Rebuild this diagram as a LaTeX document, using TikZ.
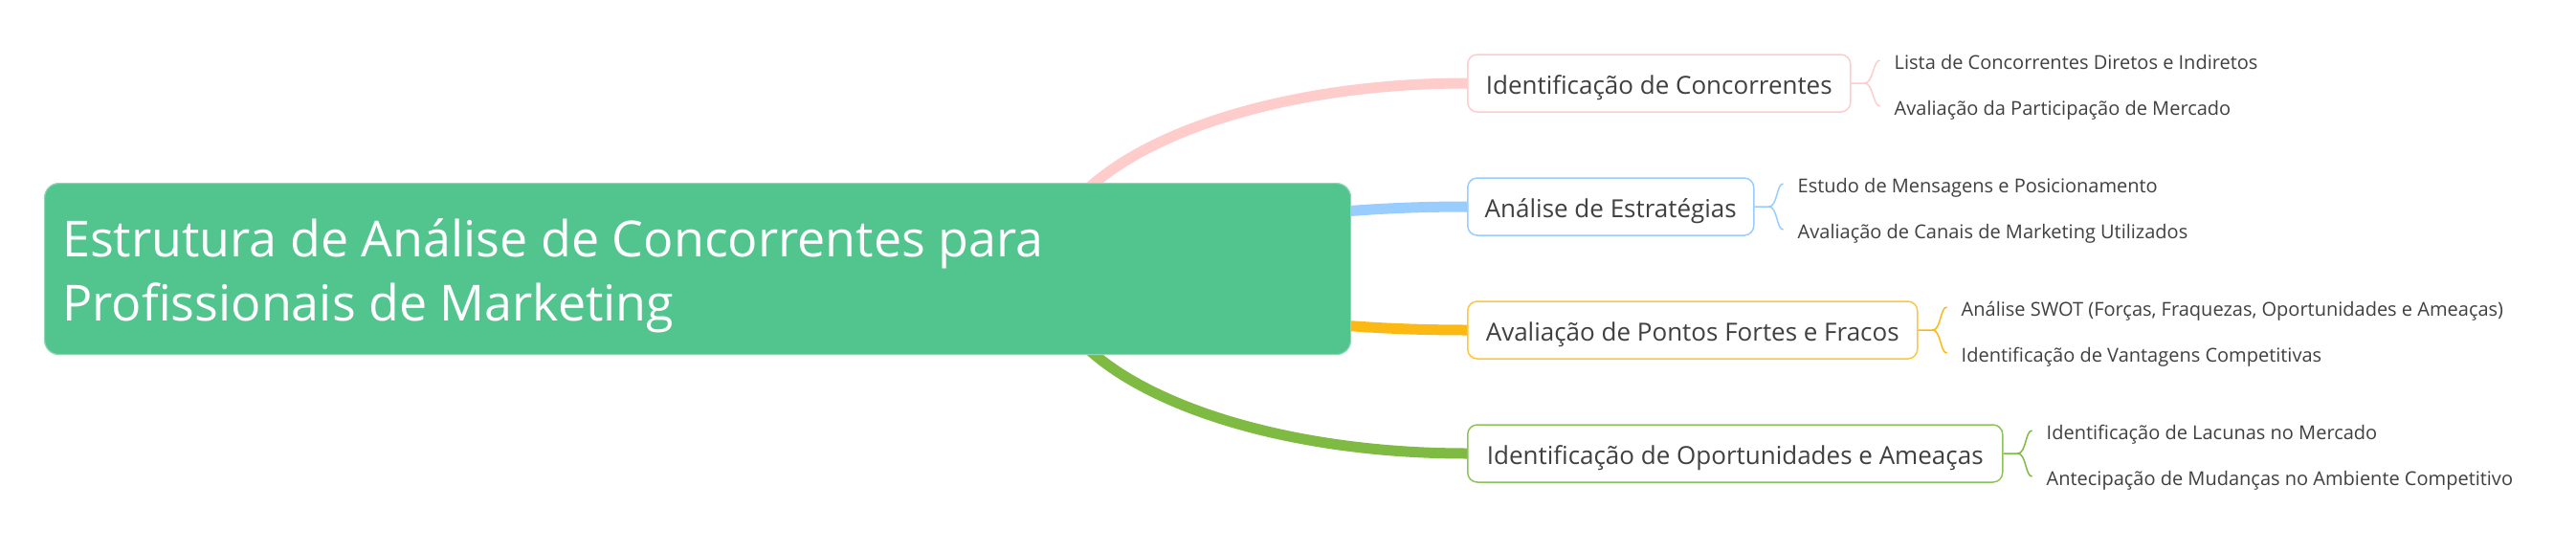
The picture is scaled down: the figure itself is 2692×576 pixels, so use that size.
\documentclass[tikz,border=0pt]{standalone}
\usepackage{fontspec}
\setmainfont{Open Sans}
\usetikzlibrary{backgrounds,calc}
\definecolor{rootfill}{HTML}{52C48E}
\definecolor{rootline}{HTML}{8FD8B4}
\definecolor{cpink}{HTML}{FFCCCC}
\definecolor{cblue}{HTML}{99CCFF}
\definecolor{corange}{HTML}{FDB913}
\definecolor{corangebox}{HTML}{FFC53D}
\definecolor{cgreen}{HTML}{7FBA42}
\definecolor{cgreenbox}{HTML}{8CC45A}
\definecolor{txt}{HTML}{404040}
\begin{document}
\begin{tikzpicture}[x=1pt,y=-1pt,
  rootbox/.style={draw=rootline, fill=rootfill, rounded corners=15pt, line width=1.2pt,
    minimum width=1365pt, minimum height=179pt, inner sep=0pt, anchor=north west},
  roottext/.style={text=white, font=\fontsize{52}{62}\selectfont, anchor=base west, inner sep=0pt},
  topicbox/.style={fill=white, rounded corners=10pt, line width=1.5pt, minimum height=60pt,
    inner sep=0pt, anchor=west, text=txt, font=\fontsize{26}{30}\selectfont,
    text height=22pt, text depth=0pt},
  leaf/.style={anchor=base west, inner sep=0pt, text=txt, font=\fontsize{20}{24}\selectfont,
    text height=18pt, text depth=0pt},
  branch/.style={line width=11pt},
  brace/.style={line width=1.5pt},
]
\useasboundingbox (0,0) rectangle (2692,576);

% root
\node[rootbox] (root) at (46,191) {};
\node[roottext] (rt1) at ($(root.north west)+(19,77)$) {Estrutura de Análise de Concorrentes para};
\node[roottext] (rt2) at ($(root.north west)+(19,144)$) {Profissionais de Marketing};

% topics
\node[topicbox, draw=cpink, minimum width=400pt] (b1) at (1533,87) {Identificação de Concorrentes};
\node[topicbox, draw=cblue, minimum width=299pt] (b2) at (1533,216) {Análise de Estratégias};
\node[topicbox, draw=corangebox, minimum width=470pt] (b3) at (1533,345) {Avaliação de Pontos Fortes e Fracos};
\node[topicbox, draw=cgreenbox, minimum width=559pt] (b4) at (1533,474) {Identificação de Oportunidades e Ameaças};

% leaves
\node[leaf] (l11) at ($(b1.east)+(45,-15)$) {Lista de Concorrentes Diretos e Indiretos};
\node[leaf] (l12) at ($(b1.east)+(45,33)$) {Avaliação da Participação de Mercado};
\node[leaf] (l21) at ($(b2.east)+(45,-15)$) {Estudo de Mensagens e Posicionamento};
\node[leaf] (l22) at ($(b2.east)+(45,33)$) {Avaliação de Canais de Marketing Utilizados};
\node[leaf] (l31) at ($(b3.east)+(45,-15)$) {Análise SWOT (Forças, Fraquezas, Oportunidades e Ameaças)};
\node[leaf] (l32) at ($(b3.east)+(45,33)$) {Identificação de Vantagens Competitivas};
\node[leaf] (l41) at ($(b4.east)+(45,-15)$) {Identificação de Lacunas no Mercado};
\node[leaf] (l42) at ($(b4.east)+(45,33)$) {Antecipação de Mudanças no Ambiente Competitivo};

% background and main connectors
\begin{scope}[on background layer]
\fill[white] (0,0) rectangle (2692,576);
\draw[branch, cpink] (root.center) -- ++(365,0) .. controls +(0,-107) and +(-243,0) .. (b1.west);
\draw[branch, cblue] (root.center) -- ++(471,0) .. controls +(0,-36) and +(-184,0) .. (b2.west);
\draw[branch, corange] (root.center) -- ++(471,0) .. controls +(0,36) and +(-184,0) .. (b3.west);
\draw[branch, cgreen] (root.center) -- ++(365,0) .. controls +(0,107) and +(-243,0) .. (b4.west);
\end{scope}

% braces
\draw[brace, cpink] (b1.east) -- ++(14,0) coordinate (j1) .. controls +(9,0) and +(-7,0) .. ($(l11.west)+(-15,0)$);
\draw[brace, cpink] (j1) .. controls +(9,0) and +(-7,0) .. ($(l12.west)+(-15,0)$);
\draw[brace, cblue] (b2.east) -- ++(15,0) coordinate (j2) .. controls +(9,0) and +(-7,0) .. ($(l21.west)+(-15,0)$);
\draw[brace, cblue] (j2) .. controls +(9,0) and +(-7,0) .. ($(l22.west)+(-15,0)$);
\draw[brace, corange] (b3.east) -- ++(15,0) coordinate (j3) .. controls +(9,0) and +(-7,0) .. ($(l31.west)+(-15,0)$);
\draw[brace, corange] (j3) .. controls +(9,0) and +(-7,0) .. ($(l32.west)+(-15,0)$);
\draw[brace, cgreen] (b4.east) -- ++(15,0) coordinate (j4) .. controls +(9,0) and +(-7,0) .. ($(l41.west)+(-15,0)$);
\draw[brace, cgreen] (j4) .. controls +(9,0) and +(-7,0) .. ($(l42.west)+(-15,0)$);
\end{tikzpicture}
\end{document}
